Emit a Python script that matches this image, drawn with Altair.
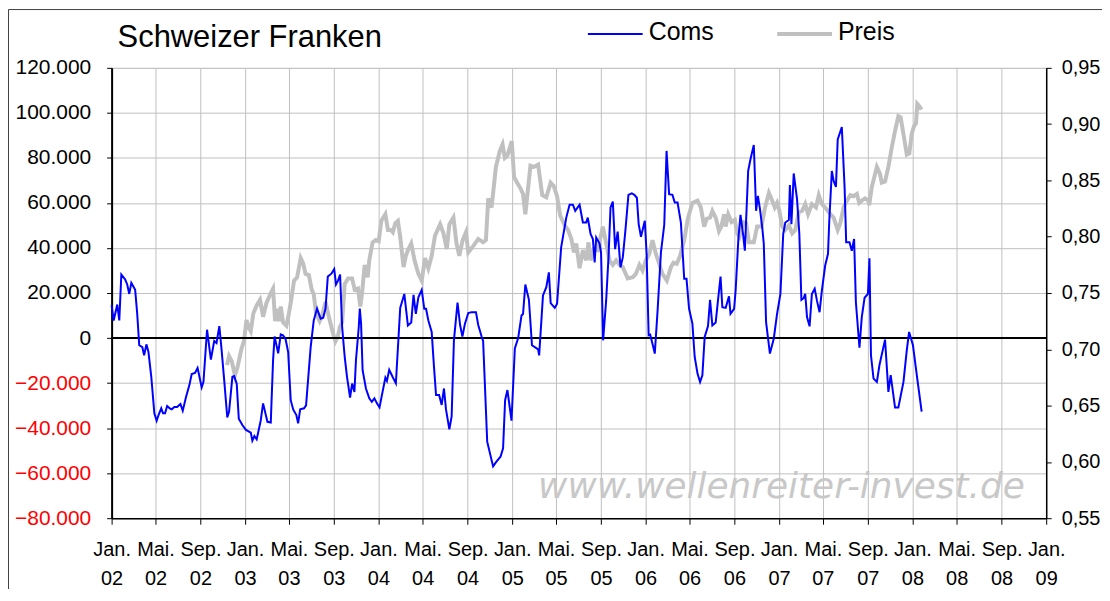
import altair as alt
import pandas as pd
import numpy as np

# ---------------- data ----------------
# x positions are weeks since 2002-01-01
coms_weeks = [0.0, 0.8, 2.2, 3.0, 3.8, 5.3, 6.1, 6.9, 7.7, 8.5, 9.2, 10.0, 10.8, 12.0, 12.7, 13.6, 14.4, 15.5, 16.7, 17.6,
              18.4, 19.4, 20.1, 20.9, 21.7, 22.7, 23.5, 24.5, 25.6, 26.9, 27.8, 29.1, 30.4, 31.3, 32.6, 33.6, 35.2, 35.9, 37.3, 38.8,
              40.1, 41.0, 42.1, 43.0, 44.0, 45.2, 45.9, 47.2, 47.9, 48.9, 49.7, 51.1, 52.5, 54.4, 55.0, 55.8, 56.7, 58.3, 59.2, 60.9,
              62.2, 63.1, 63.7, 65.1, 66.1, 67.0, 68.0, 69.0, 70.0, 71.0, 72.2, 72.9, 73.7, 75.2, 76.0, 77.8, 79.0, 80.3, 81.7, 82.7,
              83.6, 84.5, 85.9, 87.0, 87.7, 88.5, 89.3, 90.1, 91.1, 92.0, 93.2, 94.0, 94.9, 95.5, 96.6, 97.0, 97.5, 98.1, 99.4, 100.7,
              101.7, 102.7, 103.7, 104.7, 105.9, 107.0, 107.6, 108.5, 109.8, 111.1, 112.8, 114.4, 115.8, 117.1, 118.0, 118.9, 119.9, 121.2, 122.2, 122.9,
              123.8, 125.1, 126.0, 126.8, 128.0, 129.0, 129.9, 130.7, 132.0, 132.9, 133.8, 135.2, 136.2, 137.1, 138.1, 139.4, 140.7, 142.4, 143.3, 144.6,
              145.2, 146.8, 149.1, 150.4, 152.0, 153.0, 153.8, 154.7, 156.3, 157.6, 158.9, 160.2, 160.8, 161.7, 163.1, 164.3, 165.4, 166.7, 167.1, 168.6,
              169.9, 170.9, 171.6, 173.2, 174.1, 175.7, 177.7, 179.0, 180.3, 181.2, 182.9, 184.2, 185.5, 186.1, 187.2, 188.1, 188.8, 189.4, 190.7, 191.3,
              192.1, 193.3, 194.2, 195.0, 195.9, 196.8, 197.8, 198.9, 199.8, 200.8, 202.0, 203.3, 204.3, 205.3, 206.0, 206.9, 208.4, 209.1, 209.9, 210.5,
              211.4, 212.3, 213.4, 214.7, 216.0, 216.9, 217.9, 219.2, 220.1, 221.2, 222.5, 223.8, 224.7, 225.7, 227.0, 227.9, 229.0, 230.0, 230.9, 231.8,
              233.1, 233.9, 234.8, 236.1, 237.0, 238.0, 238.7, 240.0, 241.3, 241.9, 243.3, 243.9, 245.0, 245.8, 246.8, 247.5, 248.8, 249.7, 251.0, 251.9,
              252.6, 253.4, 254.3, 254.9, 255.8, 257.3, 258.8, 260.1, 261.4, 262.5, 263.3, 264.7, 265.1, 265.7, 266.6, 267.9, 268.8, 269.6, 270.5, 271.1,
              271.8, 272.8, 273.7, 274.8, 275.7, 276.7, 277.6, 278.9, 280.0, 280.5, 281.5, 282.2, 283.1, 283.8, 285.4, 286.5, 287.1, 288.4, 289.3, 290.2,
              290.9, 292.3, 293.2, 294.3, 295.6, 296.2, 296.8, 297.8, 299.1, 300.1, 302.3, 303.6, 304.5, 306.2, 307.5, 309.5, 310.8, 311.7, 313.2, 314.8,
              316.6]
coms_values = [14500, 7800, 14900, 7800, 28200, 26000, 23800, 19600, 24500, 22900, 21400, 10800, -3200, -4000, -7700, -2800, -6200, -17200, -33400, -36700,
               -34000, -31200, -33400, -33400, -30200, -31200, -31600, -30600, -30600, -29300, -32300, -26100, -20900, -16000, -15500, -13300, -21900, -19400, 3700, -9600,
               -1300, -2200, 5300, -5500, -18700, -35200, -32800, -17200, -16900, -20300, -35800, -38600, -40800, -42000, -45600, -43500, -45000, -36500, -29000, -37200,
               -37500, -9900, 700, -6800, 1600, 1200, -500, -6200, -27600, -31800, -34200, -37900, -31600, -31200, -29900, -4000, 7800, 13100, 8600, 9000,
               13100, 27300, 28600, 30700, 23800, 25500, 28200, 4900, -8400, -17200, -26400, -20200, -23900, -9900, 4900, 13100, 6400, -14300, -22400, -26800,
               -28300, -26800, -29000, -30800, -23900, -17600, -19000, -14100, -17200, -20100, 13400, 19600, 5600, 6900, 19200, 10700, 18100, 21400, 13000, 13000,
               7800, 2700, -12800, -25300, -25300, -29700, -22400, -31800, -40500, -34800, -900, 15700, 5800, 700, 6400, 11100, 11500, 11500, 5800, 700,
               -1300, -46000, -57000, -54900, -52700, -49000, -27600, -23100, -36700, -4600, 0, 10000, 10700, 23800, 17000, -3200, -4000, -5000, -7700, 18900,
               22600, 29200, 15500, 13400, 15200, 40300, 53500, 59200, 59200, 56500, 59200, 51300, 51300, 53500, 46200, 44000, 33600, 44700, 42000, 37900,
               -1000, 16700, 35800, 58000, 60600, 39500, 47300, 31400, 35800, 47600, 63600, 64300, 63600, 62300, 50600, 45000, 52100, 37400, 1200, 1500,
               -2500, -6900, 12300, 38100, 50300, 83100, 63900, 63600, 60200, 60200, 51300, 26300, 26300, 13000, 6400, -8400, -15800, -19500, -16500, 500,
               5300, 17000, 5600, 6900, 16700, 27300, 13700, 13400, 18500, 10800, 13000, 21100, 44700, 54700, 46200, 38800, 74200, 79400, 85700, 56500,
               63100, 57400, 49100, 42000, 7100, -6900, -300, 10800, 19600, 46200, 51300, 52400, 68000, 50600, 73100, 61700, 46200, 17000, 17700, 19600,
               9300, 5200, 19600, 21900, 16500, 11500, 21100, 32200, 37400, 52100, 74200, 69800, 67100, 88200, 93700, 66500, 42500, 42500, 38800, 44000,
               15900, -4300, 9300, 17900, 19600, 35400, -7700, -18000, -19500, -12100, -700, -23900, -16500, -30800, -30800, -19500, -5400, 2700, -3200, -17200,
               -32700]

preis_weeks = [45.1, 45.9, 47.0, 48.2, 49.2, 50.7, 51.8, 52.7, 53.5, 54.4, 55.4, 56.7, 58.0, 59.2, 60.5, 62.2, 63.1, 63.9, 64.8, 65.4,
               66.1, 67.0, 68.3, 69.3, 70.4, 71.3, 72.5, 73.9, 74.9, 75.8, 77.1, 78.2, 79.0, 79.9, 81.3, 82.3, 83.6, 84.9, 86.2, 87.5,
               88.4, 89.2, 90.1, 91.1, 92.4, 94.0, 95.0, 96.3, 97.2, 97.9, 98.9, 100.1, 100.7, 102.0, 103.3, 104.4, 105.4, 107.0, 108.0, 109.1,
               109.9, 110.9, 111.9, 112.8, 114.1, 115.0, 115.8, 117.1, 118.4, 119.9, 121.2, 122.5, 123.8, 125.1, 126.4, 128.4, 129.7, 131.0, 132.0, 133.6,
               134.8, 135.9, 137.2, 138.5, 139.4, 141.1, 143.3, 145.2, 146.3, 147.2, 148.5, 150.2, 151.7, 152.8, 153.7, 154.7, 155.6, 156.4, 157.3, 158.5,
               159.8, 160.8, 161.7, 162.4, 163.7, 165.0, 166.7, 168.3, 169.9, 171.6, 172.8, 174.1, 175.3, 177.1, 178.4, 179.7, 180.7, 181.6, 182.9, 184.2,
               185.5, 186.4, 187.2, 188.5, 190.0, 192.0, 193.3, 194.6, 195.9, 197.2, 198.5, 199.8, 201.7, 203.7, 204.9, 206.3, 207.5, 208.8, 210.2, 211.4,
               212.7, 214.0, 215.3, 217.0, 218.6, 219.6, 220.9, 222.2, 223.8, 225.3, 227.0, 229.0, 230.3, 231.6, 232.6, 233.9, 234.8, 236.1, 237.4, 238.3,
               239.4, 240.0, 241.0, 242.3, 243.6, 244.5, 245.4, 246.8, 248.0, 249.1, 251.0, 252.3, 254.0, 255.3, 256.9, 258.2, 259.2, 260.1, 261.0, 262.1,
               263.3, 264.7, 266.0, 267.2, 268.6, 269.9, 271.1, 272.2, 273.7, 275.3, 276.4, 277.6, 279.2, 280.9, 282.2, 283.8, 284.8, 286.1, 287.4, 288.7,
               290.0, 291.3, 292.2, 293.2, 294.5, 295.8, 296.1, 297.1, 298.2, 299.1, 300.3, 301.0, 302.3, 303.6, 304.9, 306.2, 307.5, 308.4, 309.5, 310.8,
               311.8, 312.7, 313.6, 314.4, 314.9, 315.7, 316.6]
preis_values = [0.686, 0.694, 0.689, 0.677, 0.684, 0.700, 0.708, 0.726, 0.720, 0.716, 0.732, 0.739, 0.744, 0.729, 0.741, 0.750, 0.754, 0.725, 0.736, 0.725,
                0.738, 0.724, 0.721, 0.732, 0.747, 0.761, 0.764, 0.781, 0.776, 0.767, 0.766, 0.753, 0.749, 0.732, 0.725, 0.730, 0.742, 0.729, 0.717, 0.707,
                0.711, 0.720, 0.724, 0.758, 0.763, 0.763, 0.753, 0.754, 0.738, 0.750, 0.775, 0.764, 0.779, 0.795, 0.797, 0.796, 0.814, 0.820, 0.806, 0.806,
                0.804, 0.812, 0.814, 0.800, 0.773, 0.783, 0.788, 0.794, 0.779, 0.767, 0.761, 0.781, 0.772, 0.783, 0.801, 0.811, 0.803, 0.789, 0.811, 0.817,
                0.794, 0.783, 0.797, 0.804, 0.786, 0.791, 0.798, 0.795, 0.797, 0.834, 0.826, 0.862, 0.876, 0.882, 0.870, 0.872, 0.879, 0.885, 0.853, 0.848,
                0.843, 0.838, 0.820, 0.835, 0.863, 0.862, 0.864, 0.837, 0.835, 0.848, 0.845, 0.836, 0.819, 0.810, 0.806, 0.798, 0.786, 0.794, 0.772, 0.788,
                0.779, 0.795, 0.779, 0.789, 0.788, 0.809, 0.794, 0.779, 0.775, 0.779, 0.775, 0.773, 0.763, 0.764, 0.767, 0.775, 0.770, 0.779, 0.785, 0.797,
                0.785, 0.776, 0.767, 0.761, 0.773, 0.777, 0.776, 0.783, 0.797, 0.817, 0.830, 0.832, 0.826, 0.809, 0.816, 0.817, 0.823, 0.817, 0.805, 0.809,
                0.820, 0.809, 0.820, 0.813, 0.815, 0.803, 0.800, 0.813, 0.812, 0.795, 0.795, 0.809, 0.809, 0.825, 0.839, 0.832, 0.826, 0.830, 0.823, 0.809,
                0.806, 0.810, 0.803, 0.806, 0.822, 0.823, 0.829, 0.820, 0.829, 0.826, 0.837, 0.829, 0.825, 0.820, 0.817, 0.806, 0.812, 0.826, 0.832, 0.837,
                0.836, 0.838, 0.830, 0.832, 0.834, 0.832, 0.828, 0.844, 0.854, 0.862, 0.856, 0.848, 0.849, 0.862, 0.879, 0.894, 0.907, 0.906, 0.891, 0.873,
                0.874, 0.891, 0.898, 0.901, 0.918, 0.916, 0.913]

left_ticks = [-80000, -60000, -40000, -20000, 0, 20000, 40000, 60000, 80000, 100000, 120000]
right_ticks = [0.55, 0.60, 0.65, 0.70, 0.75, 0.80, 0.85, 0.90, 0.95]
tick_years = [2002, 2003, 2004, 2005, 2006, 2007, 2008]
tick_months = [1, 5, 9]

assert len(coms_weeks) == len(coms_values)
assert len(preis_weeks) == len(preis_values)

start = pd.Timestamp("2002-01-01")
coms_df = pd.DataFrame({
    "date": start + pd.to_timedelta(np.round(np.array(coms_weeks) * 7 * 24), unit="h"),
    "Coms": coms_values,
})
preis_df = pd.DataFrame({
    "date": start + pd.to_timedelta(np.round(np.array(preis_weeks) * 7 * 24), unit="h"),
    "Preis": preis_values,
})

tick_dates = [alt.DateTime(year=y, month=m, date=1) for y in tick_years for m in tick_months]
tick_dates.append(alt.DateTime(year=2009, month=1, date=1))

FONT = "Liberation Sans"
GRID = "#c0c0c0"

x_axis = alt.Axis(
    values=tick_dates,
    labelExpr="[(month(datum.value) == 0 ? 'Jan.' : (month(datum.value) == 4 ? 'Mai.' : 'Sep.')), timeFormat(datum.value, '%y')]",
    grid=True, gridColor=GRID, gridWidth=1,
    tickSize=6, tickColor="black", tickWidth=1,
    domainColor="black", domainWidth=1.5,
    labelFontSize=20, labelFont=FONT, labelColor="black",
    labelPadding=15, labelLineHeight=30, labelBaseline="top", labelAlign="center",
    labelFlush=False, labelOverlap=False, title=None,
)
x_scale = alt.Scale(domain=[alt.DateTime(year=2002, month=1, date=1), alt.DateTime(year=2009, month=1, date=1)])
x_enc = alt.X("date:T", scale=x_scale, axis=x_axis)

left_scale = alt.Scale(domain=[-80000, 120000], nice=False, zero=False)
left_axis = alt.Axis(
    orient="left", values=left_ticks,
    labelExpr="replace(format(datum.value, ',.0f'), ',', '.')",
    labelColor=alt.condition("datum.value < 0", alt.value("#ff0000"), alt.value("black")),
    grid=True, gridColor=GRID, gridWidth=1,
    tickSize=5, tickColor="black", domainColor="black", domainWidth=2,
    labelFontSize=21, labelFont=FONT, labelPadding=16, title=None,
)
right_scale = alt.Scale(domain=[0.55, 0.95], nice=False, zero=False)
right_axis = alt.Axis(
    orient="right", values=right_ticks,
    labelExpr="replace(format(datum.value, '.2f'), '.', ',')",
    grid=False, tickSize=5, tickColor="black", domainColor="black", domainWidth=1.5,
    labelFontSize=20, labelFont=FONT, labelColor="black", labelPadding=10, title=None,
)

coms_line = alt.Chart(coms_df).mark_line(color="#0000ff", strokeWidth=2).encode(
    x=x_enc, y=alt.Y("Coms:Q", scale=left_scale, axis=left_axis)
)
zero_df = pd.DataFrame({"Coms": [0]})
zero_rule = alt.Chart(zero_df).mark_rule(color="black", strokeWidth=2).encode(
    y=alt.Y("Coms:Q", scale=left_scale, axis=left_axis)
)
left_layer = alt.layer(zero_rule, coms_line)

preis_line = alt.Chart(preis_df).mark_line(color="#c0c0c0", strokeWidth=4).encode(
    x=x_enc, y=alt.Y("Preis:Q", scale=right_scale, axis=right_axis)
)

one = pd.DataFrame({"a": [0]})
deco = alt.Chart(one)

title_txt = deco.mark_text(font=FONT, fontSize=31, align="left", baseline="alphabetic", color="black").encode(
    x=alt.value(6), y=alt.value(-21), text=alt.value("Schweizer Franken"))
leg_blue = deco.mark_rule(color="#0000ff", strokeWidth=2).encode(
    x=alt.value(478), x2=alt.value(533), y=alt.value(-34))
leg_blue_t = deco.mark_text(font=FONT, fontSize=25, align="left", baseline="alphabetic", color="black").encode(
    x=alt.value(539), y=alt.value(-28), text=alt.value("Coms"))
leg_grey = deco.mark_rule(color="#c0c0c0", strokeWidth=4).encode(
    x=alt.value(668), x2=alt.value(723), y=alt.value(-34))
leg_grey_t = deco.mark_text(font=FONT, fontSize=25, align="left", baseline="alphabetic", color="black").encode(
    x=alt.value(729), y=alt.value(-28), text=alt.value("Preis"))
watermark = deco.mark_text(font="DejaVu Sans", fontSize=36, fontStyle="italic", align="left", baseline="alphabetic",
                           color="#c8c8c8").encode(
    x=alt.value(428), y=alt.value(432), text=alt.value("www.wellenreiter-invest.de"))
frame_left = deco.mark_rule(color="#404040", strokeWidth=1).encode(
    x=alt.value(-103.5), y=alt.value(-58.5), y2=alt.value(530))
frame_top = deco.mark_rule(color="#404040", strokeWidth=1).encode(
    x=alt.value(-103.5), x2=alt.value(1000), y=alt.value(-58.5))

chart = alt.layer(
    preis_line, left_layer, watermark, title_txt, leg_blue, leg_blue_t, leg_grey, leg_grey_t, frame_left, frame_top
).resolve_scale(y="independent").properties(
    width=938, height=452,
    autosize=alt.AutoSizeParams(type="none"),
    padding={"left": 104, "top": 59, "right": 56, "bottom": 70},
).configure_view(stroke="#808080", strokeWidth=1.5).configure(font=FONT, background="white")

chart.save("out.html", embed_options={"renderer": "svg", "actions": False})
